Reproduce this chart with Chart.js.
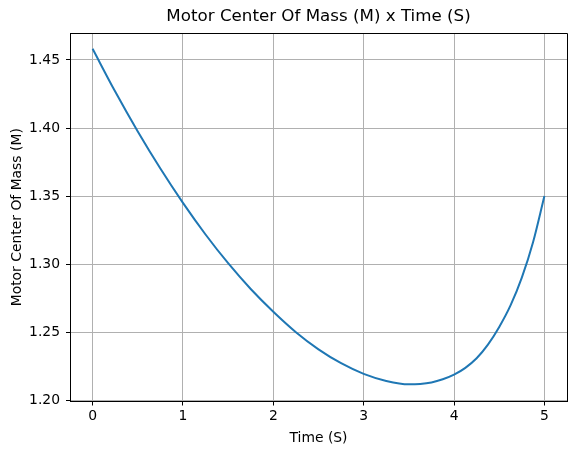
<!DOCTYPE html>
<html>
<head>
<meta charset="utf-8">
<script src="https://cdn.jsdelivr.net/npm/chart.js@4"></script>
<style>
  html, body { margin: 0; padding: 0; background: #fff; }
  #wrap { width: 576px; height: 455px; }
</style>
</head>
<body>
<div id="wrap"><canvas id="motorChart" width="576" height="455"></canvas></div>
<script>
// ========== DATA ==========
const chartTitle = 'Motor Center Of Mass (M) x Time (S)';
const xLabel = 'Time (S)';
const yLabel = 'Motor Center Of Mass (M)';

const timeValues = [0, 0.25, 0.5, 0.75, 1, 1.25, 1.5, 1.75, 2, 2.25, 2.5, 2.75, 3,
  3.25, 3.5, 3.625, 3.75, 3.875, 4, 4.125, 4.25, 4.375, 4.5, 4.625, 4.75, 4.875, 5];
const massValues = [1.4582, 1.4268, 1.3975, 1.3703, 1.3451, 1.3219, 1.3008, 1.2819, 1.2652,
  1.2502, 1.2376, 1.2274, 1.2196, 1.2144, 1.2119, 1.2122, 1.2133, 1.2156, 1.2190,
  1.2240, 1.2310, 1.2410, 1.2540, 1.2698, 1.2902, 1.3164, 1.3502];

const xTicks = [0, 1, 2, 3, 4, 5];
const yTicks = [1.20, 1.25, 1.30, 1.35, 1.40, 1.45];

const FONT = 'DejaVu Sans';
const TICK_SIZE = 13.9;

// title centred over the plot area, like matplotlib
const titlePlugin = {
  id: 'axesTitle',
  afterDraw(chart) {
    const { ctx, chartArea } = chart;
    ctx.save();
    ctx.font = `16.7px "${FONT}"`;
    ctx.fillStyle = '#000';
    ctx.textAlign = 'center';
    ctx.textBaseline = 'middle';
    ctx.fillText(chartTitle, (chartArea.left + chartArea.right) / 2, 17);
    ctx.restore();
  }
};

// top and right spines
const framePlugin = {
  id: 'frame',
  afterDatasetsDraw(chart) {
    const { ctx, chartArea: a } = chart;
    ctx.save();
    ctx.strokeStyle = '#000';
    ctx.lineWidth = 1;
    ctx.beginPath();
    ctx.moveTo(a.left, a.top + 0.5);
    ctx.lineTo(a.right + 0.5, a.top + 0.5);
    ctx.lineTo(a.right + 0.5, a.bottom);
    ctx.stroke();
    ctx.restore();
  }
};

new Chart(document.getElementById('motorChart'), {
  type: 'line',
  data: {
    datasets: [{
      data: timeValues.map((t, i) => ({ x: t, y: massValues[i] })),
      borderColor: '#1f77b4',
      borderWidth: 2,
      pointRadius: 0,
      fill: false,
      cubicInterpolationMode: 'monotone'
    }]
  },
  options: {
    responsive: false,
    animation: false,
    layout: { padding: { left: 0, right: 9, top: 33, bottom: 0 } },
    plugins: {
      legend: { display: false },
      tooltip: { enabled: false },
      title: { display: false }
    },
    scales: {
      x: {
        type: 'linear',
        min: -0.25,
        max: 5.25,
        afterBuildTicks: s => { s.ticks = xTicks.map(v => ({ value: v })); },
        afterFit: s => { s.height = 53.5; },
        ticks: {
          color: '#000',
          font: { family: FONT, size: TICK_SIZE },
          padding: 3,
          maxRotation: 0,
          callback: v => String(v)
        },
        grid: { color: '#b0b0b0', lineWidth: 1, tickColor: '#000', tickLength: 4 },
        border: { color: '#000', width: 1 },
        title: {
          display: true,
          text: xLabel,
          color: '#000',
          font: { family: FONT, size: TICK_SIZE },
          padding: { top: 0, bottom: 8 }
        }
      },
      y: {
        type: 'linear',
        min: 1.1993,
        max: 1.4698,
        afterBuildTicks: s => { s.ticks = yTicks.map(v => ({ value: v })); },
        afterFit: s => { s.width = 70; },
        ticks: {
          color: '#000',
          font: { family: FONT, size: TICK_SIZE },
          padding: 6,
          callback: v => v.toFixed(2)
        },
        grid: { color: '#b0b0b0', lineWidth: 1, tickColor: '#000', tickLength: 4 },
        border: { color: '#000', width: 1 },
        title: {
          display: true,
          text: yLabel,
          color: '#000',
          font: { family: FONT, size: TICK_SIZE },
          padding: { top: 9, bottom: 0 }
        }
      }
    }
  },
  plugins: [titlePlugin, framePlugin]
});
</script>
</body>
</html>
